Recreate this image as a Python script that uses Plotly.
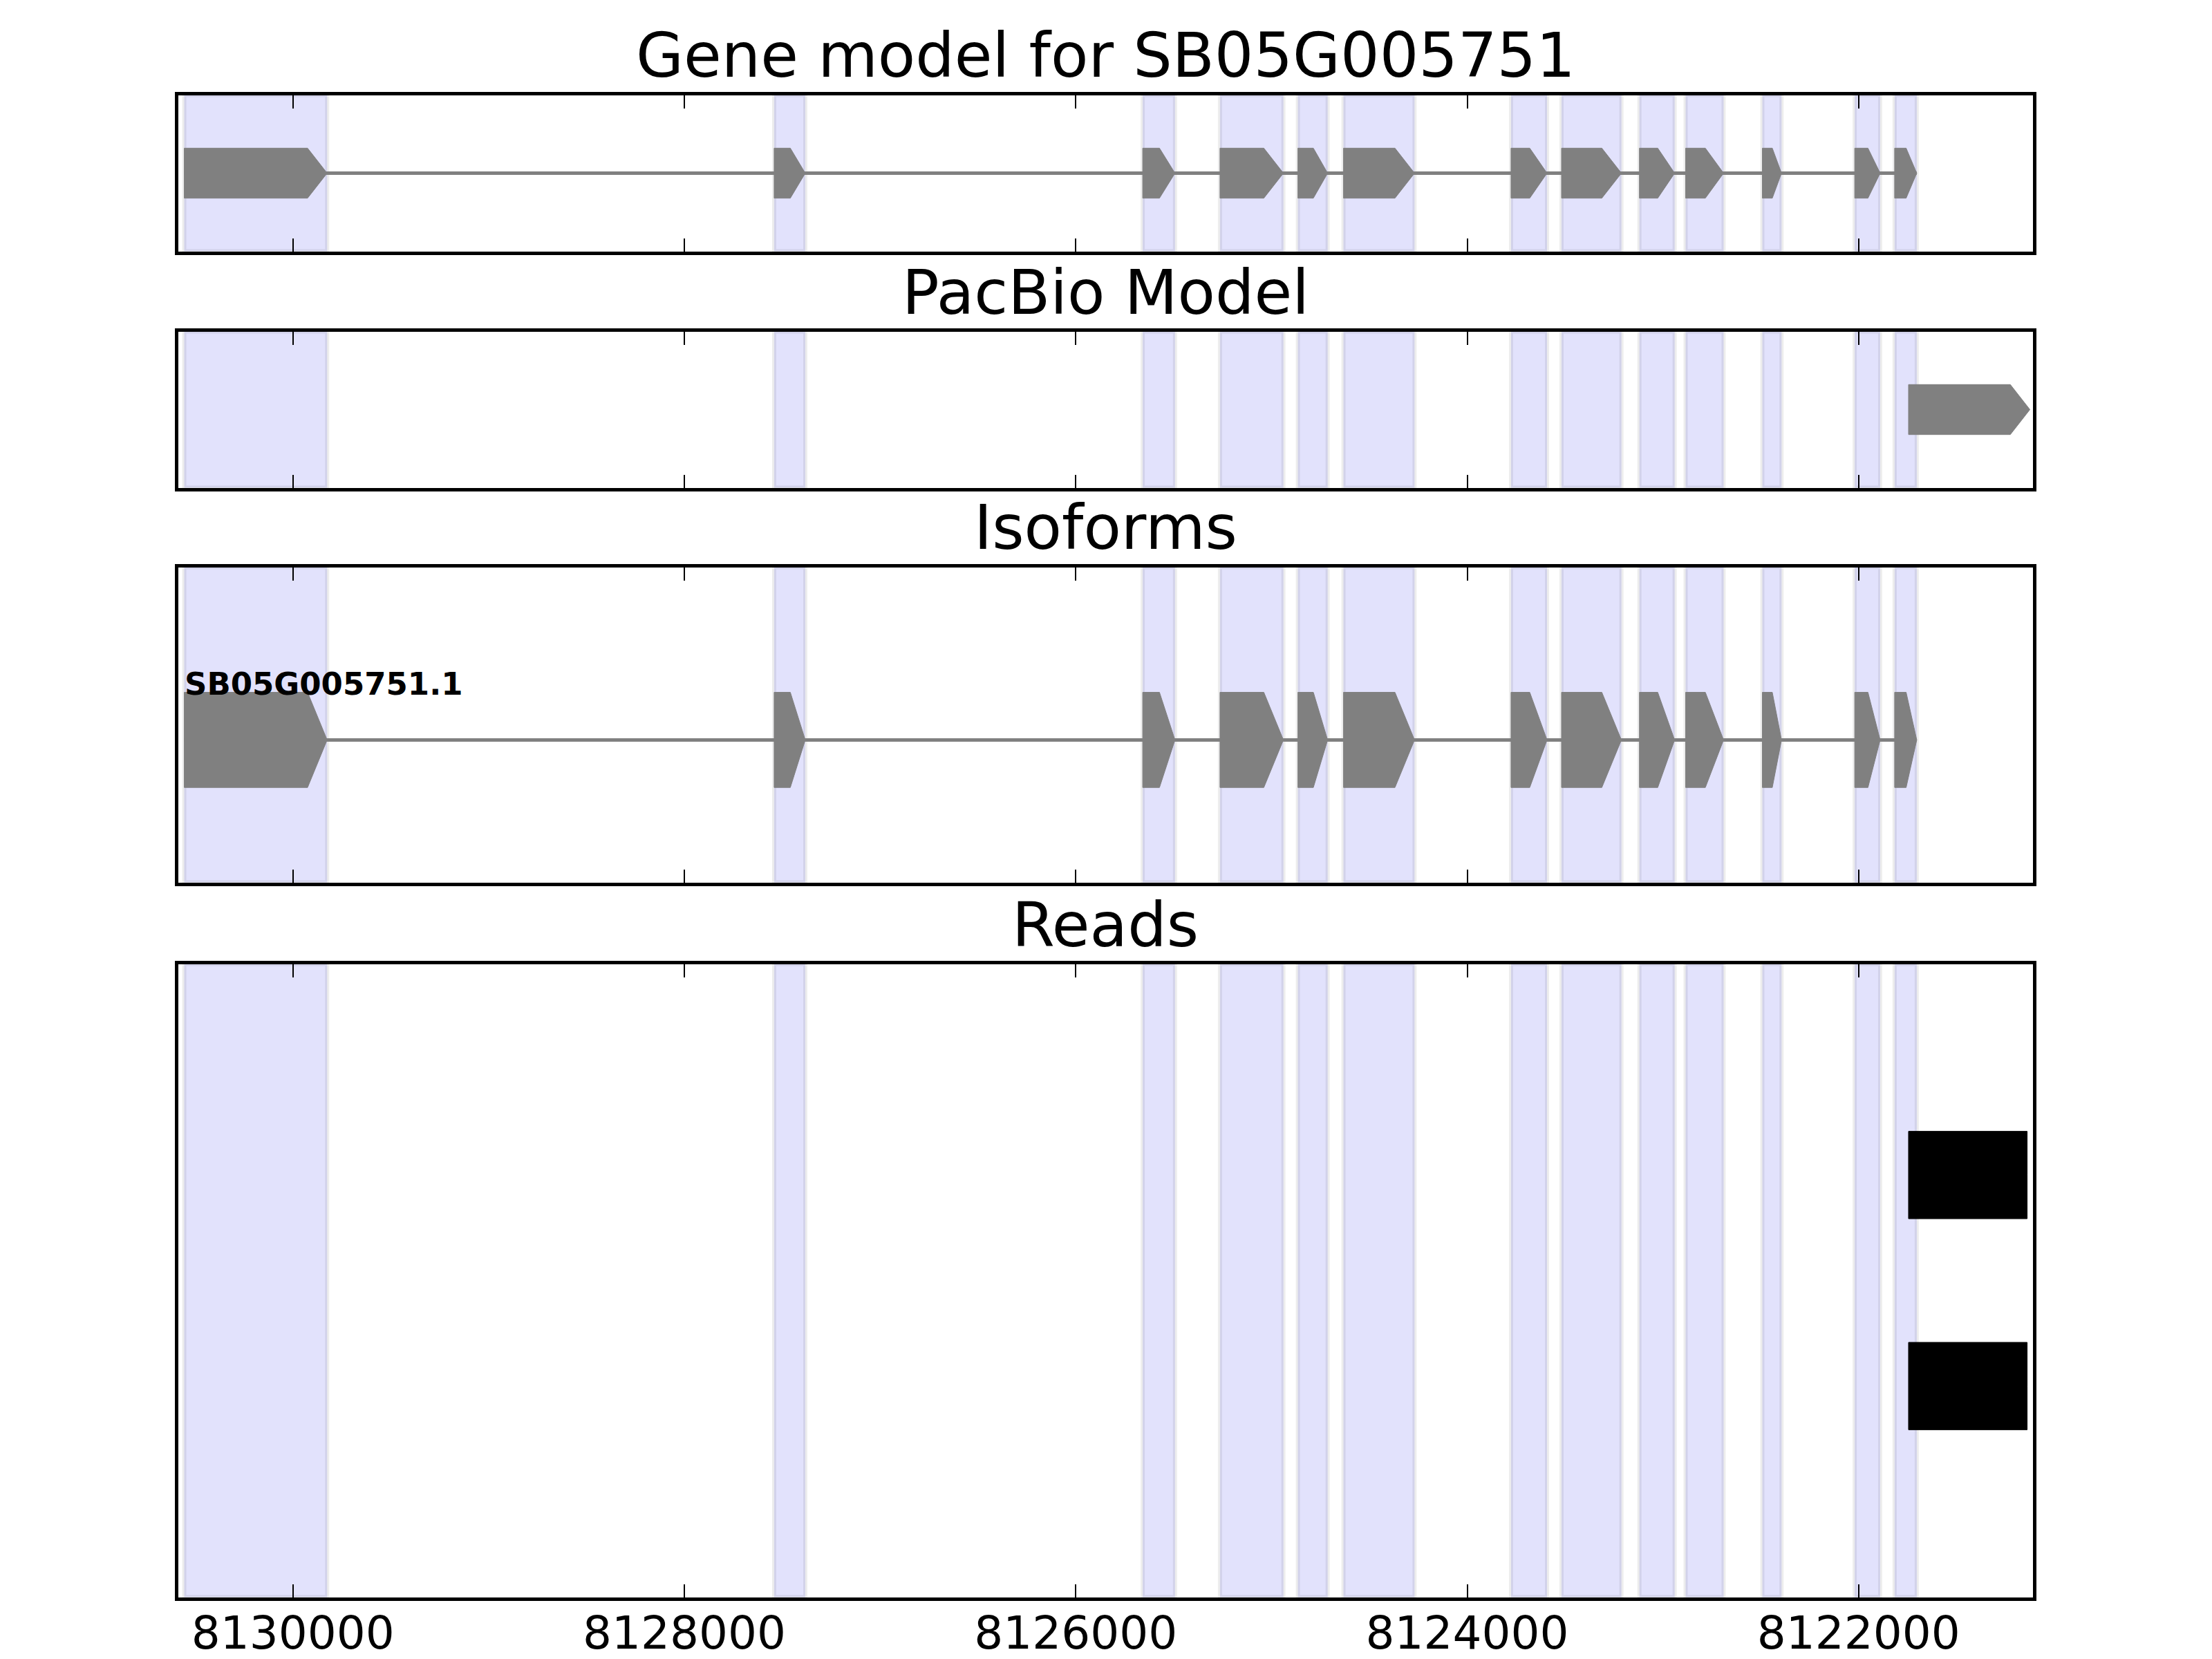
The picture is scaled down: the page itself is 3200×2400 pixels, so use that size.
import plotly.graph_objects as go
from plotly.subplots import make_subplots

# ==== data (bp, minus strand so start > end) ====
exon_starts = [8130555, 8127541, 8125658, 8125263, 8124865, 8124632, 8123776,
               8123518, 8123120, 8122884, 8122492, 8122020, 8121816]
exon_ends = [8129825, 8127382, 8125493, 8124939, 8124713, 8124269, 8123592,
             8123212, 8122940, 8122690, 8122394, 8121890, 8121703]

pacbio_starts = [8121745]
pacbio_ends = [8121125]

isoform_names = ["SB05G005751.1"]

read_starts = [8121745, 8121745]
read_ends = [8121139, 8121139]
read_rows = [2, 1]

x_range = [8130587, 8121111]
tick_values = [8130000, 8128000, 8126000, 8124000, 8122000]
tick_labels = ["8130000", "8128000", "8126000", "8124000", "8122000"]

panel_titles = ["Gene model for SB05G005751", "PacBio Model", "Isoforms", "Reads"]

# ==== layout in pixels of a 3200x2400 page ====
W, H = 3200, 2400
LW = 5  # frame line width; plotly draws it just outside the domain
x_dom = [(255 + LW / 2) / W, (2943 - LW / 2) / W]
panels_px = [(135, 366), (477, 708), (818, 1279), (1392, 2313)]
y_doms = [[1 - (b - LW / 2) / H, 1 - (t + LW / 2) / H] for t, b in panels_px]

FONT = "DejaVu Sans"
GREY = "#808080"
SHADE = "rgb(226,226,252)"
SHADE_EDGE = "rgba(0,0,0,0.07)"


def arrow_xy(starts, ends, yc, half, head_max=100, head_frac=0.48):
    xs, ys = [], []
    for s, e in zip(starts, ends):
        head = min(head_max, head_frac * (s - e)) if head_max else 0
        xs += [s, e + head, e, e + head, s, s, None]
        ys += [yc - half, yc - half, yc, yc + half, yc + half, yc - half, None]
    return xs, ys


fig = make_subplots(rows=4, cols=1)

# gene model
fig.add_trace(go.Scatter(x=[exon_starts[0], exon_ends[-1]], y=[0.5, 0.5], mode="lines",
                         line=dict(color=GREY, width=5), hoverinfo="skip"), row=1, col=1)
gx, gy = arrow_xy(exon_starts, exon_ends, 0.5, 0.16)
fig.add_trace(go.Scatter(x=gx, y=gy, mode="lines", fill="toself", fillcolor=GREY,
                         line=dict(color=GREY, width=1), hoverinfo="skip"), row=1, col=1)

# pacbio model
px_, py_ = arrow_xy(pacbio_starts, pacbio_ends, 0.5, 0.16)
fig.add_trace(go.Scatter(x=px_, y=py_, mode="lines", fill="toself", fillcolor=GREY,
                         line=dict(color=GREY, width=1), hoverinfo="skip"), row=2, col=1)

# isoforms
iso_y = 0.452
fig.add_trace(go.Scatter(x=[exon_starts[0], exon_ends[-1]], y=[iso_y, iso_y], mode="lines",
                         line=dict(color=GREY, width=5), hoverinfo="skip"), row=3, col=1)
ix, iy = arrow_xy(exon_starts, exon_ends, iso_y, 0.151)
fig.add_trace(go.Scatter(x=ix, y=iy, mode="lines", fill="toself", fillcolor=GREY,
                         line=dict(color=GREY, width=1), hoverinfo="skip"), row=3, col=1)
fig.add_annotation(x=exon_starts[0], y=iso_y + 0.151, xref="x3", yref="y3",
                   text="<b>" + isoform_names[0] + "</b>", showarrow=False,
                   xanchor="left", yanchor="bottom", xshift=-2, yshift=-16,
                   font=dict(family=FONT, size=45, color="black"))

# reads
for s, e, r in zip(read_starts, read_ends, read_rows):
    rx, ry = arrow_xy([s], [e], r, 0.207, head_max=0)
    fig.add_trace(go.Scatter(x=rx, y=ry, mode="lines", fill="toself", fillcolor="black",
                             line=dict(color="black", width=1), hoverinfo="skip"), row=4, col=1)

# exon shading in every panel
for i in range(4):
    xref = "x" if i == 0 else f"x{i + 1}"
    yref = "y domain" if i == 0 else f"y{i + 1} domain"
    for s, e in zip(exon_starts, exon_ends):
        fig.add_shape(type="rect", x0=s, x1=e, y0=0, y1=1, xref=xref, yref=yref,
                      fillcolor=SHADE, line=dict(color=SHADE_EDGE, width=6), layer="below")

y_ranges = [[0, 1], [0, 1], [0, 1], [0, 3]]
for i in range(4):
    fig.update_xaxes(row=i + 1, col=1, domain=x_dom, range=x_range,
                     tickvals=tick_values, ticktext=tick_labels,
                     showticklabels=(i == 3), ticks="inside", ticklen=19, tickwidth=2,
                     tickcolor="black", showline=True, linewidth=LW, linecolor="black",
                     mirror="ticks", showgrid=False, zeroline=False, ticklabelstandoff=-10,
                     tickfont=dict(family=FONT, size=66, color="black"))
    fig.update_yaxes(row=i + 1, col=1, domain=y_doms[i], range=y_ranges[i],
                     showticklabels=False, ticks="", showline=True, linewidth=LW,
                     linecolor="black", mirror=True, showgrid=False, zeroline=False)
    fig.add_annotation(x=sum(x_dom) / 2, y=y_doms[i][1], xref="paper", yref="paper",
                       text=panel_titles[i], showarrow=False, xanchor="center",
                       yanchor="bottom", yshift=3,
                       font=dict(family=FONT, size=89, color="black"))

fig.update_layout(width=W, height=H, margin=dict(l=0, r=0, t=0, b=0),
                  plot_bgcolor="white", paper_bgcolor="white", showlegend=False)

fig.write_html("out.html", config={"displayModeBar": False},
               post_script="document.body.style.margin='0px';")
